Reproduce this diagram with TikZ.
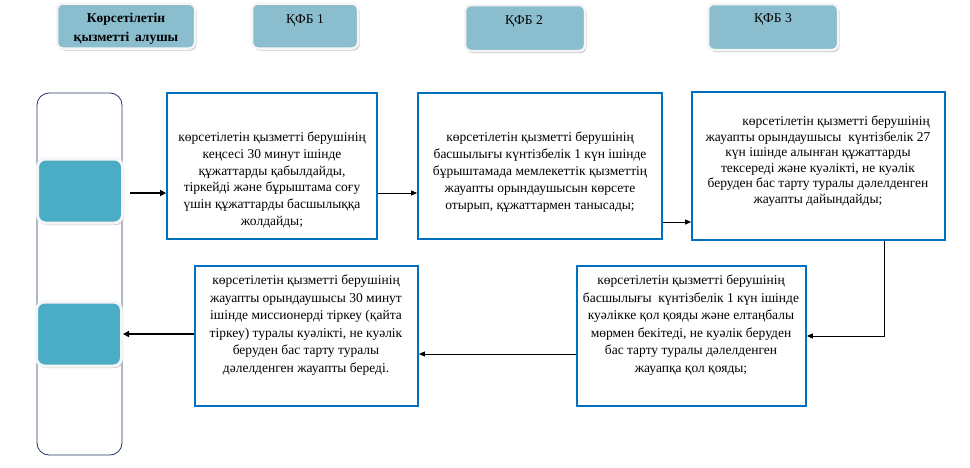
\documentclass[tikz,border=0pt]{standalone}
\usepackage{fontspec}
\setmainfont{Liberation Serif}
\usetikzlibrary{arrows.meta,shadows}
\definecolor{headfill}{HTML}{8ABECE}
\definecolor{tealfill}{HTML}{4BACC6}
\definecolor{procblue}{HTML}{0070C0}
\definecolor{lanenavy}{HTML}{1F3864}
\begin{document}
\begin{tikzpicture}[x=1pt,y=-1pt]
          \tikzstyle{headbox}=[draw=white!92!gray,line width=2.5pt,rounded corners=6pt,fill=headfill,inner sep=0pt,
            drop shadow={shadow xshift=1.5pt,shadow yshift=-2pt,fill=gray!70,opacity=.6}];
          \tikzstyle{tealbox}=[draw=white!92!gray,line width=3pt,rounded corners=8pt,fill=tealfill,inner sep=0pt,
            minimum width=85pt,minimum height=64pt,drop shadow={shadow xshift=1.5pt,shadow yshift=-2pt,fill=gray!70,opacity=.6}];
          \tikzstyle{procbox}=[draw=procblue,line width=1.8pt,inner sep=0pt];
          \tikzstyle{proctext}=[align=center,inner sep=0pt,font=\fontsize{13.5}{16.8}\selectfont];
          \tikzstyle{headtext}=[inner sep=0pt,font=\fontsize{13.5}{15}\selectfont];
          \tikzstyle{thinarrow}=[line width=0.8pt,-{Triangle[length=6pt,width=5pt]}];
          \tikzstyle{thickarrow}=[line width=2.2pt,-{Triangle[length=6pt,width=6pt]}];
          \useasboundingbox (0,0) rectangle (970,467);
          %headers
          \node[headbox,minimum width=138pt,minimum height=45pt] (h0) at (126,26) {};
          \node[headbox,minimum width=106pt,minimum height=45pt] (h1) at (305,26) {};
          \node[headbox,minimum width=120pt,minimum height=46pt] (h2) at (525,28) {};
          \node[headbox,minimum width=130pt,minimum height=46pt] (h3) at (773,27) {};
          \node[headtext,align=center,font=\fontsize{13.5}{19}\selectfont\bfseries] (h0t) at (126,29) {Көрсетілетін\\қызметті\, алушы};
          \node[headtext] (h1t) at (305,20) {ҚФБ 1};
          \node[headtext] (h2t) at (524,21) {ҚФБ 2};
          \node[headtext] (h3t) at (773,19) {ҚФБ 3};
          %lane of the service receiver
          \draw[lanenavy,line width=0.8pt,rounded corners=12pt] (37,93) rectangle (122,455);
          \node[tealbox] (ta) at (80,191) {};
          \node[tealbox] (tb) at (79,334) {};
          %process boxes
          \node[procbox,minimum width=210pt,minimum height=146pt] (p1) at (272,166) {};
          \node[procbox,minimum width=244pt,minimum height=146pt] (p2) at (540,166) {};
          \node[procbox,minimum width=253pt,minimum height=148pt] (p3) at (818.5,166) {};
          \node[procbox,minimum width=229pt,minimum height=140pt] (p4) at (691.5,336) {};
          \node[procbox,minimum width=223pt,minimum height=140pt] (p5) at (306.5,336) {};
          \node[proctext] (p1t) at (272,180) {көрсетілетін қызметті берушінің\\кеңсесі 30 минут ішінде\\құжаттарды қабылдайды,\\тіркейді және бұрыштама соғу\\үшін құжаттарды басшылыққа\\жолдайды;};
          \node[proctext] (p2t) at (540,172) {көрсетілетін қызметті берушінің\\басшылығы күнтізбелік 1 күн ішінде\\бұрыштамада мемлекеттік қызметтің\\жауапты орындаушысын көрсете\\отырып, құжаттармен танысады;};
          \node[proctext,font=\fontsize{13.5}{15.5}\selectfont] (p3t) at (818,161) {\hspace*{36pt}көрсетілетін қызметті берушінің\\жауапты орындаушысы\ \ күнтізбелік 27\\күн ішінде алынған құжаттарды\\тексереді және куәлікті, не куәлік\\беруден бас тарту туралы дәлелденген\\жауапты дайындайды;};
          \node[proctext,font=\fontsize{13.5}{17.5}\selectfont] (p4t) at (691,325) {көрсетілетін қызметті берушінің\\басшылығы\ \ күнтізбелік 1 күн ішінде\\куәлікке қол қояды және елтаңбалы\\мөрмен бекітеді, не куәлік беруден\\бас тарту туралы дәлелденген\\жауапқа қол қояды;};
          \node[proctext,font=\fontsize{13.5}{17.5}\selectfont] (p5t) at (306,325) {көрсетілетін қызметті берушінің\\жауапты орындаушысы 30 минут\\ішінде миссионерді тіркеу (қайта\\тіркеу) туралы куәлікті, не куәлік\\беруден бас тарту туралы\\дәлелденген жауапты береді.};
          %arrows
          \draw[thickarrow,shorten <=6pt] (ta.east |- 0,193) -- (p1.west |- 0,193);
          \draw[thinarrow] (p1.east |- 0,193) -- (p2.west |- 0,193);
          \draw[thinarrow] (p2.east |- 0,222) -- (p3.west |- 0,222);
          \draw[thinarrow] (p3.south -| 884,0) -- (884,336) -- (p4.east);
          \draw[thinarrow] (p4.west |- 0,354) -- (p5.east |- 0,354);
          \draw[thickarrow] (p5.west |- tb.east) -- (tb.east);
      \end{tikzpicture}
\end{document}
